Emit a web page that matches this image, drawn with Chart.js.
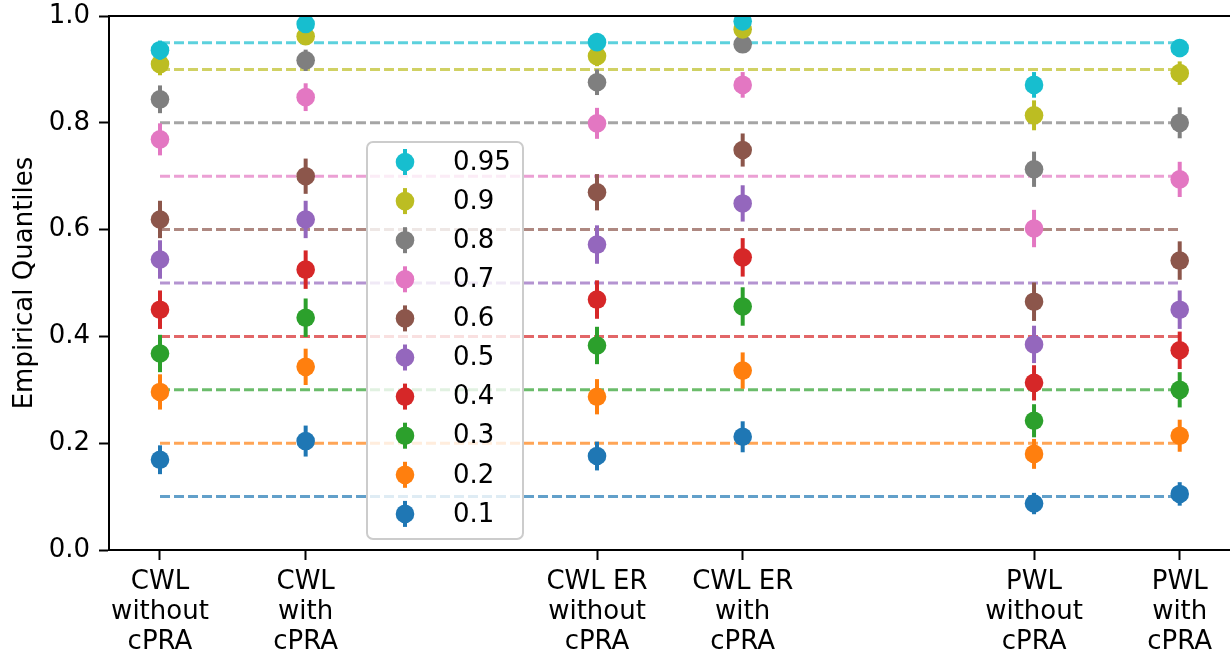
<!DOCTYPE html>
<html>
<head>
<meta charset="utf-8">
<script src="https://cdn.jsdelivr.net/npm/chart.js@4.4.0/dist/chart.umd.min.js"></script>
<style>
  html, body { margin: 0; padding: 0; background: #fff; overflow: hidden; }
  #wrap { width: 1240px; height: 653px; position: relative; }
</style>
</head>
<body>
<div id="wrap"><canvas id="chart"></canvas></div>
<script>
// categories on the x axis and where they sit
const categories = [
  ['CWL', 'without', 'cPRA'],
  ['CWL', 'with', 'cPRA'],
  ['CWL ER', 'without', 'cPRA'],
  ['CWL ER', 'with', 'cPRA'],
  ['PWL', 'without', 'cPRA'],
  ['PWL', 'with', 'cPRA']
];
const xPositions = [0, 1, 3, 4, 6, 7];
const yTicks = [0, 0.2, 0.4, 0.6, 0.8, 1.0];

// target quantile levels (legend order)
const quantiles = [0.95, 0.9, 0.8, 0.7, 0.6, 0.5, 0.4, 0.3, 0.2, 0.1];
const quantileLabels = ['0.95', '0.9', '0.8', '0.7', '0.6', '0.5', '0.4', '0.3', '0.2', '0.1'];
const colors = ['#17becf', '#bcbd22', '#7f7f7f', '#e377c2', '#8c564b', '#9467bd', '#d62728', '#2ca02c', '#ff7f0e', '#1f77b4'];

// empirical quantiles, one value per category
const q95 = [0.936, 0.985, 0.951, 0.990, 0.871, 0.940];
const q90 = [0.910, 0.962, 0.925, 0.975, 0.814, 0.893];
const q80 = [0.844, 0.917, 0.876, 0.947, 0.713, 0.800];
const q70 = [0.769, 0.848, 0.799, 0.871, 0.602, 0.694];
const q60 = [0.619, 0.700, 0.670, 0.749, 0.465, 0.542];
const q50 = [0.544, 0.619, 0.572, 0.649, 0.385, 0.450];
const q40 = [0.450, 0.525, 0.469, 0.548, 0.313, 0.374];
const q30 = [0.368, 0.435, 0.383, 0.456, 0.242, 0.300];
const q20 = [0.296, 0.343, 0.287, 0.336, 0.180, 0.214];
const q10 = [0.169, 0.204, 0.176, 0.212, 0.087, 0.105];

// error bar half-heights
const e95 = [0.018, 0.009, 0.016, 0.007, 0.024, 0.017];
const e90 = [0.021, 0.014, 0.019, 0.011, 0.028, 0.022];
const e80 = [0.026, 0.020, 0.024, 0.016, 0.033, 0.029];
const e70 = [0.030, 0.026, 0.029, 0.024, 0.035, 0.033];
const e60 = [0.035, 0.033, 0.034, 0.031, 0.036, 0.036];
const e50 = [0.036, 0.035, 0.036, 0.034, 0.035, 0.036];
const e40 = [0.036, 0.036, 0.036, 0.036, 0.033, 0.035];
const e30 = [0.035, 0.036, 0.035, 0.036, 0.031, 0.033];
const e20 = [0.033, 0.034, 0.033, 0.034, 0.028, 0.030];
const e10 = [0.027, 0.029, 0.027, 0.029, 0.020, 0.022];

const seriesValues = [q95, q90, q80, q70, q60, q50, q40, q30, q20, q10];
const seriesErrors = [e95, e90, e80, e70, e60, e50, e40, e30, e20, e10];

const FONT = 'DejaVu Sans';

function withAlpha(hex, a) {
  const n = parseInt(hex.slice(1), 16);
  return `rgba(${(n >> 16) & 255}, ${(n >> 8) & 255}, ${n & 255}, ${a})`;
}

const datasets = [];
quantiles.forEach((q, i) => {
  datasets.push({
    type: 'scatter',
    label: quantileLabels[i],
    data: xPositions.map((x, j) => ({ x: x, y: seriesValues[i][j], err: seriesErrors[i][j] })),
    backgroundColor: colors[i],
    borderWidth: 0,
    pointRadius: 9.3,
    pointHoverRadius: 9.3,
    order: 0,
    errorColor: colors[i]
  });
});
quantiles.forEach((q, i) => {
  datasets.push({
    type: 'line',
    label: '',
    data: [{ x: xPositions[0], y: q }, { x: xPositions[xPositions.length - 1], y: q }],
    borderColor: withAlpha(colors[i], 0.7),
    borderWidth: 3,
    borderDash: [10, 4],
    pointRadius: 0,
    fill: false,
    order: 10
  });
});

// vertical error bars, drawn just before each marker set
const errorBars = {
  id: 'errorBars',
  beforeDatasetDraw(chart, args) {
    const ds = chart.data.datasets[args.index];
    if (ds.type !== 'scatter') return;
    const { ctx, scales: { x, y } } = chart;
    ctx.save();
    ctx.strokeStyle = ds.errorColor;
    ctx.lineWidth = 4;
    ds.data.forEach(p => {
      const px = x.getPixelForValue(p.x);
      ctx.beginPath();
      ctx.moveTo(px, y.getPixelForValue(p.y - p.err));
      ctx.lineTo(px, y.getPixelForValue(p.y + p.err));
      ctx.stroke();
    });
    ctx.restore();
  }
};

// top spine
const frame = {
  id: 'frame',
  afterDraw(chart) {
    const { ctx, chartArea: a } = chart;
    ctx.save();
    ctx.strokeStyle = '#000';
    ctx.lineWidth = 2;
    ctx.beginPath();
    ctx.moveTo(a.left - 1, a.top);
    ctx.lineTo(a.right + 10, a.top);
    ctx.stroke();
    ctx.restore();
  }
};

// matplotlib style legend box
const boxLegend = {
  id: 'boxLegend',
  afterDatasetsDraw(chart) {
    const { ctx } = chart;
    const left = 367, top = 142, w = 156, h = 397, r = 6;
    ctx.save();
    ctx.beginPath();
    ctx.roundRect(left, top, w, h, r);
    ctx.fillStyle = 'rgba(255,255,255,0.8)';
    ctx.fill();
    ctx.strokeStyle = '#cccccc';
    ctx.lineWidth = 2;
    ctx.stroke();
    ctx.font = `26px "${FONT}"`;
    ctx.textBaseline = 'middle';
    ctx.textAlign = 'left';
    const scatter = chart.data.datasets.filter(d => d.type === 'scatter');
    scatter.forEach((d, i) => {
      const cy = 162 + i * 39.1;
      ctx.strokeStyle = d.backgroundColor;
      ctx.lineWidth = 4;
      ctx.beginPath();
      ctx.moveTo(405, cy - 13);
      ctx.lineTo(405, cy + 13);
      ctx.stroke();
      ctx.fillStyle = d.backgroundColor;
      ctx.beginPath();
      ctx.arc(405, cy, 9.3, 0, Math.PI * 2);
      ctx.fill();
      ctx.fillStyle = '#000';
      ctx.fillText(d.label, 453, cy + 1);
    });
    ctx.restore();
  }
};

new Chart(document.getElementById('chart'), {
  data: { datasets: datasets },
  options: {
    responsive: true,
    maintainAspectRatio: false,
    animation: false,
    events: [],
    layout: { padding: { left: 0, top: 16, right: 7, bottom: 0 } },
    plugins: {
      legend: { display: false },
      tooltip: { enabled: false }
    },
    scales: {
      x: {
        type: 'linear',
        min: -0.35,
        max: 7.35,
        afterBuildTicks: scale => { scale.ticks = xPositions.map(v => ({ value: v })); },
        afterFit: scale => {
          scale.height = 103;
          scale.paddingLeft = 0;
          scale.paddingRight = 0;
        },
        ticks: {
          autoSkip: false,
          maxRotation: 0,
          color: '#000',
          padding: 7,
          font: { family: FONT, size: 26, lineHeight: 1.15 },
          callback: v => categories[xPositions.indexOf(v)]
        },
        grid: { drawOnChartArea: false, drawTicks: true, tickLength: 10, tickWidth: 2, tickColor: '#000' },
        border: { display: true, color: '#000', width: 2 }
      },
      y: {
        type: 'linear',
        min: 0,
        max: 1,
        afterBuildTicks: scale => { scale.ticks = yTicks.map(v => ({ value: v })); },
        afterFit: scale => {
          scale.width = 109;
          scale.paddingTop = 0;
          scale.paddingBottom = 0;
        },
        ticks: {
          color: '#000',
          padding: 9,
          font: { family: FONT, size: 26 },
          callback: v => v.toFixed(1)
        },
        title: {
          display: true,
          text: 'Empirical Quantiles',
          color: '#000',
          font: { family: FONT, size: 26 },
          padding: { top: 10, bottom: 0 }
        },
        grid: { drawOnChartArea: false, drawTicks: true, tickLength: 10, tickWidth: 2, tickColor: '#000' },
        border: { display: true, color: '#000', width: 2 }
      }
    }
  },
  plugins: [errorBars, frame, boxLegend]
});
</script>
</body>
</html>
